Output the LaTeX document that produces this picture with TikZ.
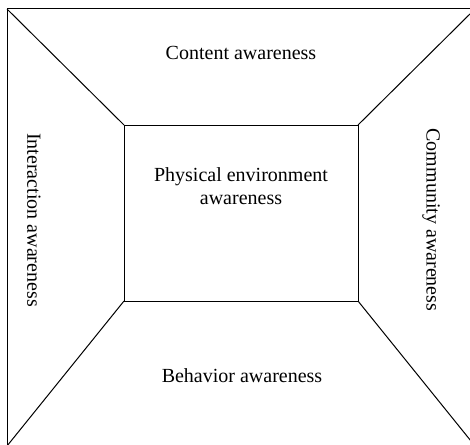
\documentclass[tikz,border=0pt]{standalone}
\usepackage{fontspec}
\setmainfont{Liberation Serif}
\usepackage{tikz}
\tikzset{
	>=latex,
}
\tikzstyle{aware}=[font=\fontsize{10}{11.5}\selectfont,align=center,inner sep=0pt]
\tikzstyle{frame}=[draw,line width=.5pt]

\begin{document}
\begin{tikzpicture}[x=.5pt,y=-.5pt]
      \useasboundingbox (0,0) rectangle (470,444);
      \clip (0,0) rectangle (470,444);
      % outer and inner frame
      \coordinate (o1) at (7,9);
      \coordinate (o2) at (475,9);
      \coordinate (o3) at (475,446);
      \coordinate (o4) at (7,446);
      \coordinate (i1) at (124,125);
      \coordinate (i2) at (358,125);
      \coordinate (i3) at (358,301);
      \coordinate (i4) at (124,301);
      \draw[frame] (o1) rectangle (o3);
      \draw[frame] (i1) rectangle (i3);
      \draw[frame] (o1)--(i1);
      \draw[frame] (o2)--(i2);
      \draw[frame] (o3)--(i3);
      \draw[frame] (o4)--(i4);
      % labels
      \node[aware] (content) at (241,53) {Content awareness};
      \node[aware] (behavior) at (242,376) {Behavior awareness};
      \node[aware] (physical) at (241,186) {Physical environment\\awareness};
      \node[aware,rotate=-90] (interaction) at (34,220) {Interaction awareness};
      \node[aware,rotate=-90] (community) at (431,220) {Community awareness};
    \end{tikzpicture}
\end{document}
